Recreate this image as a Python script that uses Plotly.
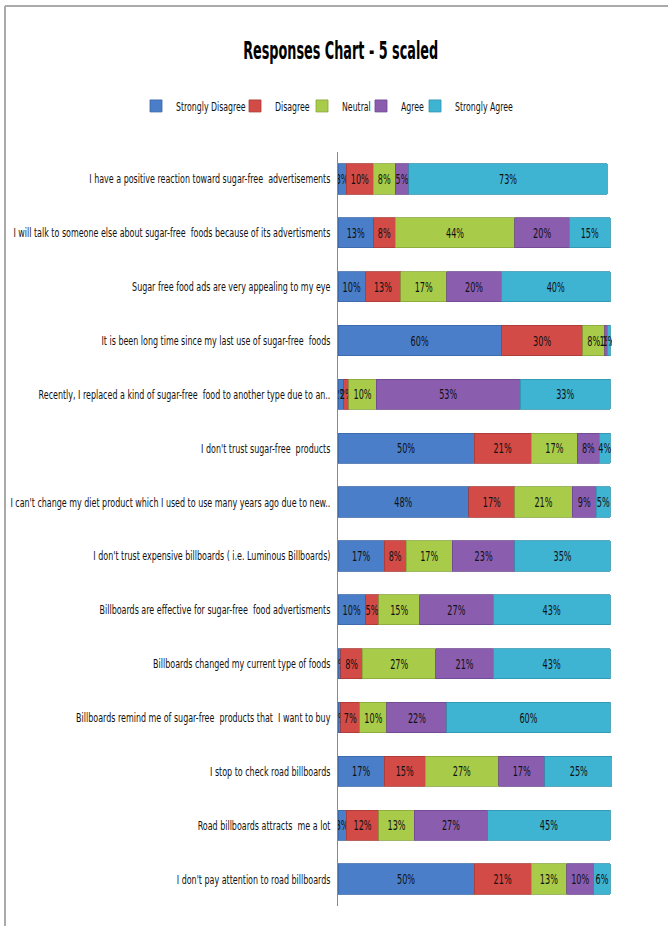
import plotly.graph_objects as go

categories = [
    "I have a positive reaction toward sugar-free  advertisements",
    "I will talk to someone else about sugar-free  foods because of its advertisments",
    "Sugar free food ads are very appealing to my eye",
    "It is been long time since my last use of sugar-free  foods",
    "Recently, I replaced a kind of sugar-free  food to another type due to an..",
    "I don't trust sugar-free  products",
    "I can't change my diet product which I used to use many years ago due to new..",
    "I don't trust expensive billboards ( i.e. Luminous Billboards)",
    "Billboards are effective for sugar-free  food advertisments",
    "Billboards changed my current type of foods",
    "Billboards remind me of sugar-free  products that  I want to buy",
    "I stop to check road billboards",
    "Road billboards attracts  me a lot",
    "I don't pay attention to road billboards",
]

series_names = ["Strongly Disagree", "Disagree", "Neutral", "Agree", "Strongly Agree"]

strongly_disagree = [3, 13, 10, 60, 2, 50, 48, 17, 10, 1, 1, 17, 3, 50]
disagree = [10, 8, 13, 30, 2, 21, 17, 8, 5, 8, 7, 15, 12, 21]
neutral = [8, 44, 17, 8, 10, 17, 21, 17, 15, 27, 10, 27, 13, 13]
agree = [5, 20, 20, 1, 53, 8, 9, 23, 27, 21, 22, 17, 27, 10]
strongly_agree = [73, 15, 40, 1, 33, 4, 5, 35, 43, 43, 60, 25, 45, 6]

series_values = [strongly_disagree, disagree, neutral, agree, strongly_agree]
colors = ["#4A7EC8", "#D24B47", "#A8CB4A", "#8B5DAE", "#3FB3D2"]
edge_colors = ["#3A66A6", "#A83A36", "#86A63A", "#6E4890", "#2F93AE"]

FONT = "DejaVu Sans, sans-serif"

W, H = 668, 926
ML, MR, MT, MB = 338, 56, 152, 20
PW, PH = W - ML - MR, H - MT - MB

# legend symbol centres (pixels) for the five separate legends
legend_sym_x = [156, 255, 322, 381, 435]

fig = go.Figure()
legend_layouts = {}
for i, (name, vals, c, ec) in enumerate(zip(series_names, series_values, colors, edge_colors)):
    lname = "legend" if i == 0 else f"legend{i + 1}"
    fig.add_trace(go.Bar(
        y=categories,
        x=vals,
        name=name,
        orientation="h",
        legend=lname,
        marker=dict(color=c, line=dict(color=ec, width=0.8)),
        text=[f"{v}%" for v in vals],
        textposition="inside",
        insidetextanchor="middle",
        textangle=0,
        constraintext="none",
        textfont=dict(family=FONT, size=14, color="#111111"),
    ))
    legend_layouts[lname] = dict(
        orientation="h",
        xref="container", x=(legend_sym_x[i] - 20) / W, xanchor="left",
        yref="container", y=1 - 106 / H, yanchor="middle",
        font=dict(family=FONT, size=13, color="#111111"),
        itemwidth=30,
        bgcolor="rgba(0,0,0,0)",
    )

fig.update_layout(
    barmode="stack",
    bargap=0.44,
    width=W,
    height=H,
    paper_bgcolor="white",
    plot_bgcolor="white",
    margin=dict(l=ML, r=MR, t=MT, b=MB, autoexpand=False),
    font=dict(family=FONT, size=12, color="#111111"),
    title=dict(
        text="Responses Chart - 5 scaled",
        font=dict(family=FONT, size=25, color="#000000", weight=700),
        xref="container", x=0.51, xanchor="center",
        yref="container", y=1 - 50 / H, yanchor="middle",
    ),
    xaxis=dict(visible=False, range=[0, 100.7], fixedrange=True),
    yaxis=dict(
        autorange="reversed",
        automargin=False,
        showline=True,
        linecolor="#8a8a8a",
        linewidth=1,
        ticks="",
        ticklabelstandoff=4,
        tickfont=dict(family=FONT, size=13, color="#111111"),
        showgrid=False,
    ),
    showlegend=True,
    shapes=[
        dict(type="line", xref="paper", yref="paper",
             x0=(5 - ML) / PW, x1=(W - ML) / PW,
             y0=1 + (MT - 6) / PH, y1=1 + (MT - 6) / PH,
             line=dict(color="#aaaaaa", width=2)),
        dict(type="line", xref="paper", yref="paper",
             x0=(5 - ML) / PW, x1=(5 - ML) / PW,
             y0=1 + (MT - 6) / PH, y1=-MB / PH,
             line=dict(color="#aaaaaa", width=2)),
    ],
    **legend_layouts,
)

# Condense the rendered text horizontally (the reference uses a narrow face)
post = """
var gd = document.getElementById('{plot_id}');
function sq(el, k){
  if (el.getAttribute('data-sq') === el.textContent && el.getAttribute('textLength')) return;
  el.removeAttribute('textLength');
  var w = el.getComputedTextLength();
  if (w > 0) {
    el.setAttribute('textLength', (w * k).toFixed(2));
    el.setAttribute('lengthAdjust', 'spacingAndGlyphs');
    el.setAttribute('data-sq', el.textContent);
  }
}
var busy = false;
function squeezeAll(){
  if (busy) return;
  busy = true;
  try {
    var ticks = gd.querySelectorAll('.ytick text');
    var mx = 0;
    ticks.forEach(function(t){
      var had = t.getAttribute('textLength');
      if (had) { t.removeAttribute('textLength'); }
      mx = Math.max(mx, t.getComputedTextLength());
      if (had) { t.setAttribute('textLength', had); }
    });
    if (mx > 0) { ticks.forEach(function(t){ sq(t, 320 / mx); }); }
    var tt = gd.querySelector('.gtitle');
    if (tt) {
      if (!(tt.getAttribute('data-sq') === tt.textContent && tt.getAttribute('textLength'))) {
        tt.removeAttribute('textLength');
        var tw = tt.getComputedTextLength(); if (tw > 0) sq(tt, 195 / tw);
      }
    }
    gd.querySelectorAll('text.legendtext').forEach(function(t){ sq(t, 0.6); });
    gd.querySelectorAll('.legend text, [class^="legend"] text, [class*=" legend"] text').forEach(function(t){ sq(t, 0.6); });
    gd.querySelectorAll('text.bartext').forEach(function(t){ sq(t, 0.58); });
  } finally { busy = false; }
}
squeezeAll();
var obs = new MutationObserver(function(){ squeezeAll(); });
obs.observe(gd, {childList: true, subtree: true, characterData: true});
var n = 0;
(function loop(){ squeezeAll(); if (++n < 120) requestAnimationFrame(loop); })();
setTimeout(squeezeAll, 100);
setTimeout(squeezeAll, 500);
"""

fig.write_html("out.html", post_script=post)
